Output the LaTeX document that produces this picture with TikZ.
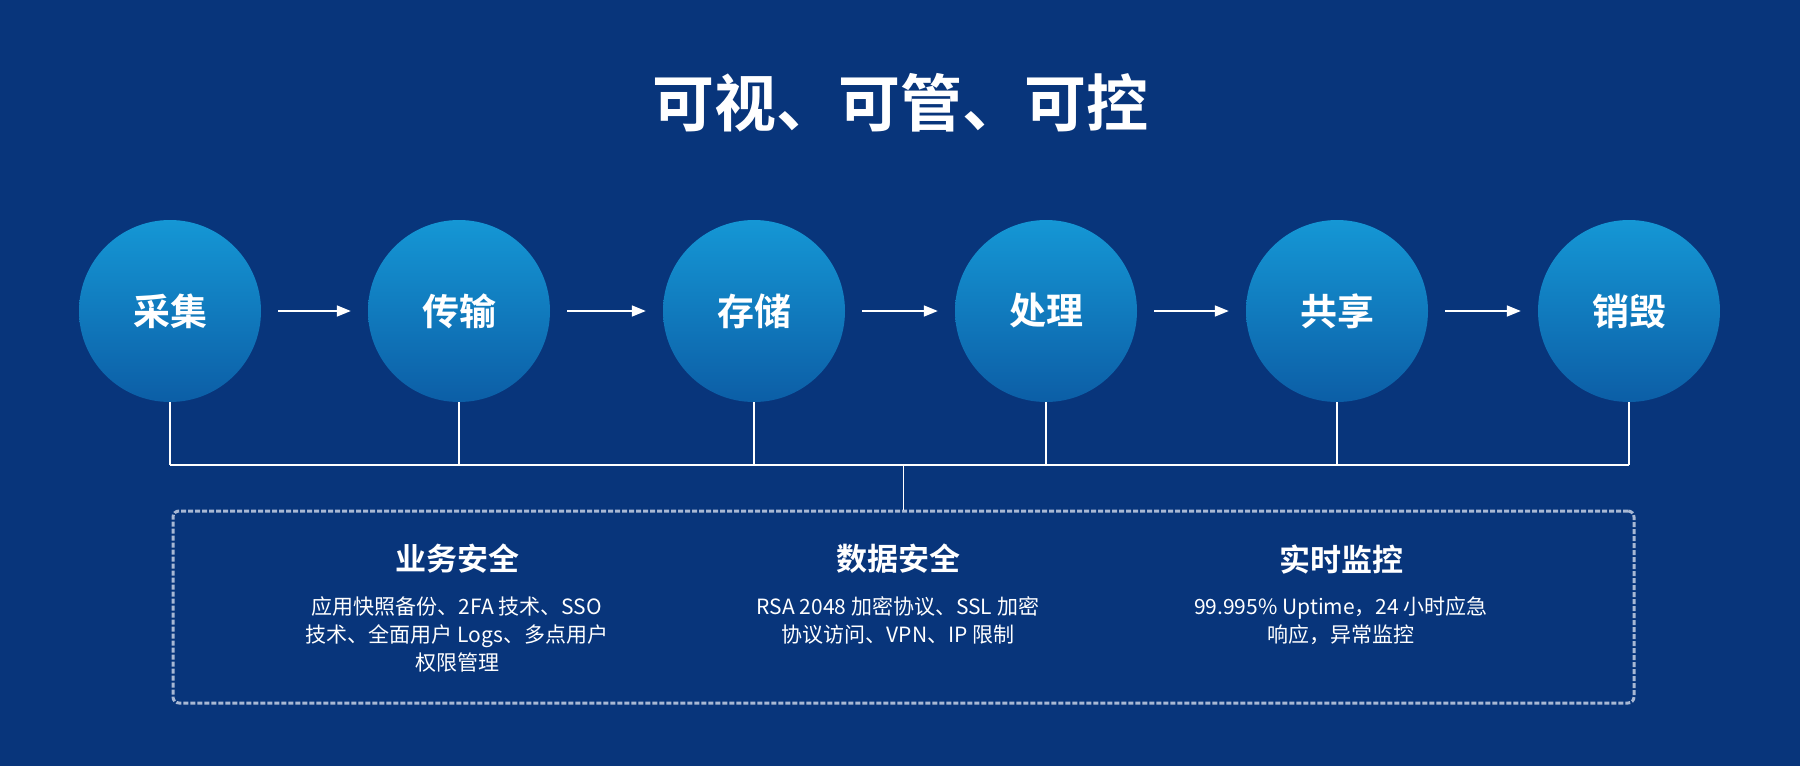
\documentclass[tikz,border=0pt]{standalone}
\usepackage{fontspec}
\setmainfont{Noto Sans CJK SC}
\newfontfamily\cjkb{Noto Sans CJK SC Bold}
\usetikzlibrary{arrows.meta}
\definecolor{bgc}{HTML}{08357B}
\definecolor{ctop}{HTML}{1597D5}
\definecolor{cbot}{HTML}{0C5EA6}
\definecolor{dash}{HTML}{A8B8D4}
\tikzset{
  stage/.style={circle,minimum size=182pt,inner sep=0pt,top color=ctop,bottom color=cbot,draw=none,text=white,font=\cjkb\fontsize{37}{37}\selectfont},
  flow/.style={white,line width=1.6pt,-{Triangle[length=14pt,width=11pt]}},
  bus/.style={white,line width=1.8pt},
  head/.style={text=white,font=\cjkb\fontsize{31}{31}\selectfont},
  body/.style={text=white,align=center,font=\fontsize{21}{28}\selectfont},
}
\begin{document}
\begin{tikzpicture}[x=1pt,y=-1pt]
\fill[bgc] (0,0) rectangle (1800,766);
\useasboundingbox (0,0) rectangle (1800,766);
\node[text=white,font=\cjkb\fontsize{62}{62}\selectfont] (title) at (900,103) {可视、可管、可控};
\foreach \n/\x/\t in {a/170/采集,b/459/传输,c/754/存储,d/1046/处理,e/1337/共享,f/1629/销毁}{
  \node[stage] (\n) at (\x,311) {\t};
  \coordinate (\n b) at (\x,465);
}
\foreach \p/\q in {a/b,b/c,c/d,d/e,e/f}{
  \draw[flow] ([xshift=17pt]\p.east) -- ([xshift=-17pt]\q.west);
}
\foreach \n in {a,b,c,d,e,f}{ \draw[bus] (\n.south) -- (\n b); }
\draw[bus] (ab) -- (fb);
\node[draw=dash,line width=3pt,dash pattern=on 5pt off 2pt,rounded corners=6pt,minimum width=1461pt,minimum height=192pt,inner sep=0pt] (box) at (903.5,607) {};
\coordinate (mid) at (box.north |- ab);
\draw[bus] (mid) -- (box.north);
\node[head] (h1) at (457,559) {业务安全};
\node[head] (h2) at (898,559) {数据安全};
\node[head] (h3) at (1341,559) {实时监控};
\node[body,anchor=north] (b1) at (457,593) {应用快照备份、2FA 技术、SSO\\技术、全面用户 Logs、多点用户\\权限管理};
\node[body,anchor=north] (b2) at (898,593) {RSA 2048 加密协议、SSL 加密\\协议访问、VPN、IP 限制};
\node[body,anchor=north] (b3) at (1341,593) {99.995\% Uptime，24 小时应急\\响应，异常监控};
\end{tikzpicture}
\end{document}
